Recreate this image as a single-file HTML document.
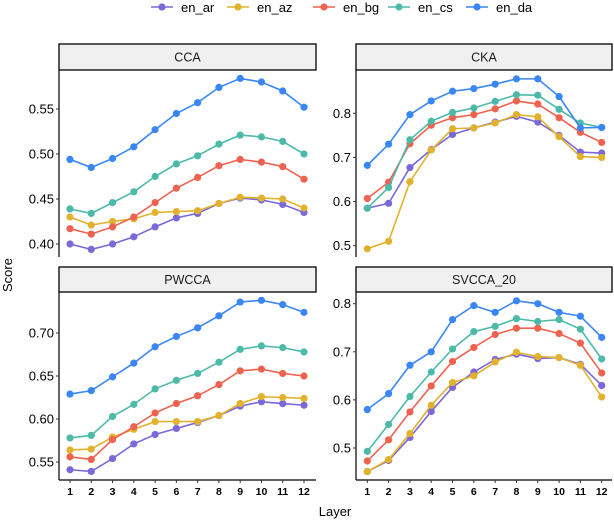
<!DOCTYPE html>
<html><head><meta charset="utf-8"><style>
body{margin:0;background:#fff;font-family:"Liberation Sans",sans-serif}
svg text{font-family:"Liberation Sans",sans-serif}
</style></head><body>
<svg id="chart" width="614" height="520" xmlns="http://www.w3.org/2000/svg"></svg>
<script>
const layers=[1,2,3,4,5,6,7,8,9,10,11,12];
const seriesNames=["en_ar","en_az","en_bg","en_cs","en_da"];
const colors=["#7b68d9","#e2b22d","#ee6350","#4dbaa9","#3a86f5"];
const ccaAr=[0.400,0.394,0.400,0.408,0.419,0.429,0.434,0.445,0.451,0.449,0.444,0.435];
const ccaAz=[0.430,0.421,0.425,0.428,0.435,0.436,0.437,0.445,0.452,0.451,0.450,0.440];
const ccaBg=[0.417,0.411,0.419,0.430,0.446,0.462,0.474,0.487,0.494,0.491,0.486,0.472];
const ccaCs=[0.439,0.434,0.446,0.458,0.475,0.489,0.498,0.511,0.521,0.519,0.514,0.500];
const ccaDa=[0.494,0.485,0.495,0.508,0.527,0.545,0.557,0.574,0.584,0.580,0.570,0.552];
const ckaAr=[0.585,0.596,0.677,0.718,0.752,0.767,0.780,0.793,0.780,0.750,0.712,0.710];
const ckaAz=[0.493,0.510,0.645,0.717,0.765,0.767,0.778,0.797,0.792,0.747,0.702,0.700];
const ckaBg=[0.607,0.644,0.731,0.773,0.790,0.797,0.810,0.828,0.821,0.790,0.757,0.734];
const ckaCs=[0.585,0.632,0.740,0.782,0.802,0.812,0.827,0.842,0.841,0.809,0.778,0.768];
const ckaDa=[0.682,0.730,0.797,0.828,0.850,0.856,0.866,0.878,0.878,0.838,0.767,0.768];
const pwAr=[0.541,0.539,0.554,0.571,0.582,0.589,0.596,0.604,0.615,0.620,0.618,0.616];
const pwAz=[0.564,0.565,0.579,0.588,0.597,0.597,0.597,0.604,0.618,0.626,0.625,0.624];
const pwBg=[0.556,0.553,0.576,0.591,0.607,0.618,0.627,0.640,0.656,0.658,0.653,0.650];
const pwCs=[0.578,0.581,0.603,0.617,0.635,0.645,0.653,0.666,0.681,0.685,0.683,0.678];
const pwDa=[0.629,0.633,0.649,0.665,0.684,0.696,0.706,0.720,0.736,0.738,0.733,0.724];
const svAr=[0.451,0.474,0.522,0.576,0.626,0.658,0.684,0.695,0.686,0.688,0.674,0.630];
const svAz=[0.451,0.476,0.530,0.589,0.636,0.650,0.679,0.699,0.690,0.688,0.672,0.606];
const svBg=[0.473,0.517,0.575,0.629,0.680,0.709,0.736,0.749,0.749,0.738,0.718,0.656];
const svCs=[0.493,0.549,0.607,0.658,0.706,0.742,0.753,0.769,0.763,0.767,0.747,0.685];
const svDa=[0.580,0.613,0.672,0.700,0.767,0.796,0.782,0.806,0.800,0.782,0.774,0.730];
const ccaTicks=["0.40","0.45","0.50","0.55"];
const ckaTicks=["0.5","0.6","0.7","0.8"];
const pwTicks=["0.55","0.60","0.65","0.70"];
const svTicks=["0.5","0.6","0.7","0.8"];

const NS="http://www.w3.org/2000/svg";
const svg=document.getElementById('chart');
function mk(tag,attrs,parent){const e=document.createElementNS(NS,tag);for(const k in attrs)e.setAttribute(k,attrs[k]);(parent||svg).appendChild(e);return e;}

const panels=[
 {title:"CCA",name:"cca",x0:59,x1:316,sy:44,py0:70,py1:257,v0:0.40,y0:244,v1:0.55,y1:109,ticks:ccaTicks,data:[ccaAr,ccaAz,ccaBg,ccaCs,ccaDa],xl:70,xr:304,xt:false},
 {title:"CKA",name:"cka",x0:356,x1:612,sy:44,py0:70,py1:257,v0:0.5,y0:245.7,v1:0.8,y1:113.3,ticks:ckaTicks,data:[ckaAr,ckaAz,ckaBg,ckaCs,ckaDa],xl:367.3,xr:601.7,xt:false},
 {title:"PWCCA",name:"pwcca",x0:59,x1:316,sy:267,py0:292,py1:480,v0:0.55,y0:462,v1:0.70,y1:333,ticks:pwTicks,data:[pwAr,pwAz,pwBg,pwCs,pwDa],xl:70,xr:304,xt:true},
 {title:"SVCCA_20",name:"svcca-20",x0:356,x1:612,sy:267,py0:292,py1:480,v0:0.5,y0:448,v1:0.8,y1:303.7,ticks:svTicks,data:[svAr,svAz,svBg,svCs,svDa],xl:367.3,xr:601.7,xt:true}
];
panels.forEach(p=>{
 const g=mk('g',{});
 
 
 const ys=v=>p.y0+(v-p.v0)*(p.y1-p.y0)/(p.v1-p.v0);
 const xs=l=>p.xl+(l-1)*(p.xr-p.xl)/11;
 const strip=mk('rect',{x:p.x0,y:p.sy,width:p.x1-p.x0,height:p.py0-p.sy,fill:'#f0f0f0',stroke:'#000','stroke-width':1.3},g);
 
 
 const st=mk('text',{x:(p.x0+p.x1)/2,y:(p.sy+p.py0)/2+4.5,'text-anchor':'middle','font-size':12.5,fill:'#1a1a1a'},g);
 st.textContent=p.title;
 
 
 mk('line',{x1:p.x0,y1:p.py0,x2:p.x0,y2:p.py1,stroke:'#000','stroke-width':1.2},g);
 if(p.xt){mk('line',{x1:p.x0,y1:p.py1,x2:p.x1,y2:p.py1,stroke:'#000','stroke-width':1.2},g);
  layers.forEach(l=>{mk('line',{x1:xs(l),y1:p.py1,x2:xs(l),y2:p.py1+3,stroke:'#333'},g);
   const t=mk('text',{x:xs(l),y:p.py1+15,'text-anchor':'middle','font-size':10.5,'font-weight':'bold',fill:'#000'},g);t.textContent=l;
   
   });}
 p.ticks.forEach(tk=>{const y=ys(parseFloat(tk));
  mk('line',{x1:p.x0-3,y1:y,x2:p.x0,y2:y,stroke:'#333'},g);
  const t=mk('text',{x:p.x0-5,y:y+4.5,'text-anchor':'end','font-size':13,fill:'#000'},g);t.textContent=tk;
  
  });
 p.data.forEach((arr,si)=>{
  const pts=arr.map((v,i)=>xs(layers[i])+','+ys(v)).join(' ');
  const pl=mk('polyline',{points:pts,fill:'none',stroke:colors[si],'stroke-width':1.6},g);
  
  
  arr.forEach((v,i)=>{const c=mk('circle',{cx:xs(layers[i]),cy:ys(v),r:3.6,fill:colors[si]},g);
   
   });
 });
});
const lx=[151,227,313,388,466];
seriesNames.forEach((n,i)=>{
 const g=mk('g',{});
 
 
 mk('line',{x1:lx[i],y1:7,x2:lx[i]+22,y2:7,stroke:colors[i],'stroke-width':1.6},g);
 mk('circle',{cx:lx[i]+11,cy:7,r:3.6,fill:colors[i]},g);
 const t=mk('text',{x:lx[i]+30,y:12,'font-size':13,fill:'#000'},g);t.textContent=n;
});
const xt=mk('text',{x:335,y:516,'text-anchor':'middle','font-size':13,fill:'#000'});xt.textContent="Layer";


const yt=mk('text',{x:12,y:275,'text-anchor':'middle','font-size':13,fill:'#000',transform:'rotate(-90 12 275)'});yt.textContent="Score";


</script>
</body></html>
